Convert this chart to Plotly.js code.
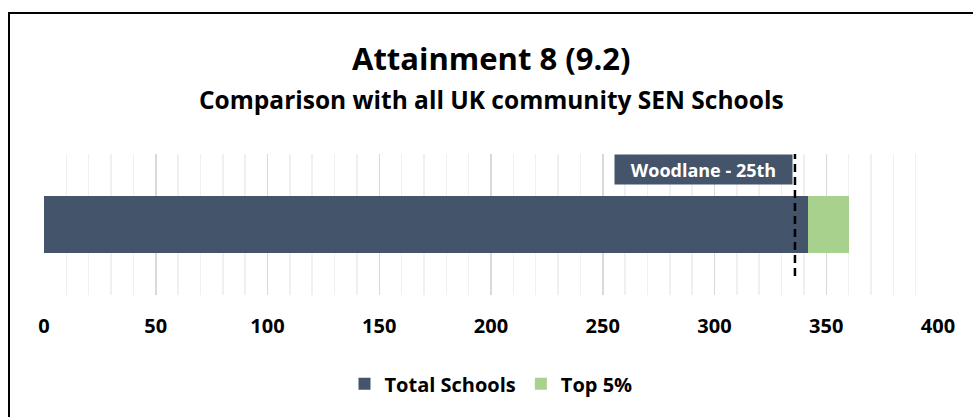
<!DOCTYPE html>
<html>
<head>
<meta charset="utf-8">
<script src="https://cdn.plot.ly/plotly-3.0.1.min.js"></script>
<style>
  html, body { margin: 0; padding: 0; background: #fff; }
  #frame { position: absolute; left: 8px; top: 12px; width: 980px; height: 420px;
           border-left: 2px solid #000; border-top: 2px solid #000; }
  #chart { position: absolute; left: 0; top: 0; width: 973px; height: 417px; }
</style>
</head>
<body>
<div id="frame"></div>
<div id="chart"></div>
<script>
const categories = ["Attainment 8"];
const totalSchools = [342];
const top5 = [18];
const schoolRank = 336;           // position of Woodlane on the axis
const rankLabel = "Woodlane - 25th";
const tickVals = [0, 50, 100, 150, 200, 250, 300, 350, 400];

const FONT = "'Open Sans', 'DejaVu Sans', sans-serif";

const traces = [
  { type: "bar", orientation: "h", name: "Total Schools", y: categories, x: totalSchools,
    marker: { color: "#44546A" }, width: 0.404, hoverinfo: "x" },
  { type: "bar", orientation: "h", name: "Top 5%", y: categories, x: top5,
    marker: { color: "#A9D18E" }, width: 0.404, hoverinfo: "x" }
];

const layout = {
  width: 973, height: 417,
  margin: { l: 44, r: 35, t: 154, b: 122 },
  paper_bgcolor: "rgba(0,0,0,0)", plot_bgcolor: "rgba(0,0,0,0)",
  barmode: "stack",
  font: { family: FONT, color: "#000", size: 18 },
  xaxis: {
    range: [0, 400], tickvals: tickVals, showline: false, zeroline: false,
    gridcolor: "#D9D9D9", gridwidth: 1.5,
    minor: { dtick: 10, showgrid: true, gridcolor: "#F0F0F0", gridwidth: 1.5 },
    ticks: "", ticklabelstandoff: 17,
    tickfont: { family: FONT, size: 20, color: "#000", weight: "bold" },
    fixedrange: true
  },
  yaxis: { range: [-0.5, 0.5], showticklabels: false, showgrid: false, zeroline: false, fixedrange: true },
  showlegend: true,
  legend: {
    orientation: "h", x: 0.5, xanchor: "center", y: -0.63, yanchor: "middle",
    font: { family: FONT, size: 20, color: "#000", weight: "bold" },
    itemwidth: 30, traceorder: "normal"
  },
  shapes: [
    { type: "line", xref: "x", yref: "paper", x0: schoolRank, x1: schoolRank, y0: 0.135, y1: 1,
      line: { color: "#000", width: 2.5, dash: "8px,5px" } }
  ],
  annotations: [
    { text: "<b>Attainment 8 (9.2)</b>", xref: "paper", yref: "paper", x: 0.5, y: 1.681,
      xanchor: "center", yanchor: "middle", showarrow: false,
      font: { family: FONT, size: 31, color: "#000" } },
    { text: "<b>Comparison with all UK community SEN Schools</b>", xref: "paper", yref: "paper",
      x: 0.5, y: 1.383, xanchor: "center", yanchor: "middle", showarrow: false,
      font: { family: FONT, size: 24.5, color: "#000" } },
    { text: "<b>" + rankLabel + "</b>", xref: "x", yref: "paper", x: schoolRank, y: 1,
      xanchor: "right", yanchor: "top", xshift: -2, showarrow: false,
      bgcolor: "#44546A", width: 173, height: 25, borderpad: 2,
      font: { family: FONT, size: 18, color: "#fff" } }
  ]
};

Plotly.newPlot("chart", traces, layout, { displayModeBar: false, staticPlot: true });
</script>
</body>
</html>
